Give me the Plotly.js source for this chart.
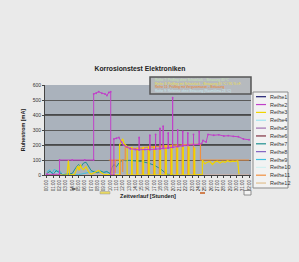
<!DOCTYPE html>
<html><head><meta charset="utf-8">
<script src="https://cdn.plot.ly/plotly-3.0.1.min.js"></script>
<style>html,body{margin:0;padding:0;background:#eaeaea;}#c{width:299px;height:262px;}</style>
</head><body><div id="c"></div>
<script>
// ---- data ----
const seriesNames = ["Reihe1","Reihe2","Reihe3","Reihe4","Reihe5","Reihe6","Reihe7","Reihe8","Reihe9","Reihe10","Reihe11","Reihe12"];
const seriesColors = ["#1c1c70","#c040c8","#f0d400","#a0e4f0","#a070b0","#803040","#209090","#8060c0","#40c0e0","#d0f0f0","#f09040","#e0c090"];
const tickLabels = ["00:00","01:00","02:00","03:00","04:00","05:00","06:00","07:00","08:00","09:00","10:00","11:00","12:00","13:00","14:00","15:00","16:00","17:00","18:00","19:00","20:00","21:00","22:00","23:00","24:00","25:00","26:00","27:00","28:00","29:00","30:00","31:00","32:00"];
const tickPos = [0,1,2,3,4,5,6,7,8,9,10,11,12,13,14,15,16,17,18,19,20,21,22,23,24,25,26,27,28,29,30,31,32];
const strongGrid = [200, 400];

const x1 = [0, 32];
const y1 = [2, 2];

const x2 = [0, 1.0, 2.0, 2.0, 4.0, 6.0,
  7.4, 7.4, 7.8, 8.2, 8.7, 9.2, 9.5, 9.8, 10.1, 10.1,
  10.6, 10.6, 11.0, 11.4, 11.8, 12.1, 12.7, 13.2, 14.0,
  14.6, 14.6, 14.6, 15.5, 16.3, 16.3, 16.3, 17.2, 17.2, 17.2,
  17.9, 17.9, 17.9, 18.4, 18.4, 18.4, 19.2, 19.2, 19.2,
  19.9, 19.9, 19.9, 20.7, 20.7, 20.7, 21.5, 21.5, 21.5,
  22.3, 22.3, 22.3, 23.2, 23.2, 23.2, 24.1, 24.1, 24.1,
  24.5, 24.7, 25.2, 25.5, 26.4, 27.2, 28.0, 28.7, 29.5, 30.3, 31.1, 32.0];
const y2 = [5, 3, 5, 100, 100, 100,
  100, 540, 545, 555, 545, 540, 530, 550, 555, 0,
  0, 240, 245, 250, 220, 200, 185, 175, 170,
  168, 250, 168, 170, 170, 265, 170, 172, 270, 172,
  175, 310, 175, 178, 325, 178, 180, 280, 180,
  185, 515, 185, 190, 300, 190, 195, 290, 195,
  200, 280, 200, 202, 270, 202, 205, 290, 205,
  210, 230, 220, 270, 265, 268, 260, 262, 258, 255, 240, 235];

const x3 = [0, 3.2, 3.4, 3.6, 4.4, 4.7, 4.9, 5.1, 5.3, 5.5, 5.8, 6.2, 6.6, 7.0, 7.8, 8.2, 8.6, 9.0,
  11.5, 11.5, 11.8, 12.0, 12.2, 12.5, 12.7, 12.7,
  13.4, 13.4, 13.5, 13.5, 14.3, 14.3, 14.4, 14.4, 15.2, 15.2, 15.3, 15.3,
  16.1, 16.1, 16.2, 16.2, 17.0, 17.0, 17.1, 17.1, 17.9, 17.9, 18.0, 18.0,
  18.8, 18.8, 18.9, 18.9, 19.7, 19.7, 19.8, 19.8, 20.6, 20.6, 20.7, 20.7,
  21.5, 21.5, 21.6, 21.6, 22.4, 22.4, 22.5, 22.5, 23.3, 23.3, 23.4, 23.4,
  24.3, 24.6, 24.6, 25.0, 25.4, 25.8, 26.2, 26.6, 27.0, 27.4, 27.8, 28.2, 28.6, 29.0, 29.4, 29.8, 30.2, 30.4];
const y3 = [0, 0, 100, 0, 5, 40, 60, 30, 70, 45, 35, 55, 20, 5, 20, 30, 15, 5,
  0, 200, 230, 240, 210, 200, 190, 0,
  0, 185, 185, 0, 0, 180, 180, 0, 0, 185, 185, 0,
  0, 190, 190, 0, 0, 190, 190, 0, 0, 195, 195, 0,
  0, 195, 195, 0, 0, 195, 195, 0, 0, 190, 190, 0,
  0, 190, 190, 0, 0, 185, 185, 0, 0, 180, 180, 0,
  0, 5, 100, 75, 85, 90, 70, 88, 92, 80, 90, 85, 95, 88, 92, 90, 95, 5];

const x4 = [0, 1.5, 3.0, 9.0, 10.5, 12.0];
const y4 = [5, 15, 3, 2, 8, 3];
const x5 = [0, 10, 20, 32];
const y5 = [1, 3, 2, 1];
const x6 = [0, 32];
const y6 = [0, 0];

const x7 = [0, 0.5, 1.0, 1.5, 2.0, 2.5, 3.0, 3.5, 4.0, 4.6, 5.0, 5.4, 5.8, 6.2, 6.6, 7.0, 7.5, 8.0, 8.5, 9.0,
  9.5, 10.0, 10.3, 10.6, 11.0, 11.4, 12.0, 12.5, 13.0, 14.0, 15.0, 16.0, 17.0, 18.0, 18.6, 19.0, 20.0];
const y7 = [10, 25, 5, 30, 15, 3, 5, 8, 10, 50, 70, 55, 80, 85, 60, 30, 20, 15, 25, 18,
  22, 10, 50, 70, 55, 80, 100, 95, 98, 95, 90, 80, 65, 40, 15, 5, 2];

const x8 = [0, 32];
const y8 = [1, 1];
const x9 = [0, 0.4, 0.8, 1.2, 1.6, 2.0, 2.4, 2.8, 5.0, 7.5, 8.0, 8.5, 9.0, 9.5, 10.0];
const y9 = [20, 35, 10, 40, 20, 30, 5, 0, 2, 25, 20, 30, 15, 25, 5];
const x10 = [0, 32];
const y10 = [0, 0];

const x11 = [9.8, 10.3, 10.3, 10.3, 10.8, 10.8, 10.8, 11.6, 11.6, 11.6, 12.0, 12.0, 12.0, 12.4, 12.4, 13.5,
  14.2, 14.2, 14.2, 15.1, 15.1, 15.1, 16.0, 16.0, 16.0, 16.9, 16.9, 16.9, 17.8, 17.8, 17.8,
  18.7, 18.7, 18.7, 19.6, 19.6, 19.6, 20.5, 20.5, 20.5, 21.4, 21.4, 21.4, 22.3, 22.3, 22.3,
  23.2, 23.2, 23.2, 24.3, 24.3, 32.0];
const y11 = [100, 100, 0, 100, 100, 10, 100, 100, 0, 100, 100, 20, 100, 100, 190, 180,
  175, 0, 178, 180, 0, 182, 185, 0, 185, 188, 0, 190, 190, 0, 192,
  195, 0, 195, 198, 0, 198, 200, 0, 200, 200, 0, 202, 203, 0, 203,
  205, 0, 205, 205, 100, 100];
const x12 = [0, 32];
const y12 = [0, 0];

const noteLines = [
  "Reihe 7: Prüfling ohne Schutzlack – Betauung 40 °C",
  "Reihe 3: Prüfling mit Schutzlack – Betauung 40 °C / 95 % r.F.",
  "Reihe 11: Prüfling mit Vergussmasse – Betauung",
  "Reihe 9: Referenz ohne Betauung (Raumklima 23 °C)"
];
const noteColors = ["#c8e8b0","#f0e040","#f08020","#c8ecf4"];

// ---- build ----
const xs = [x1,x2,x3,x4,x5,x6,x7,x8,x9,x10,x11,x12];
const ys = [y1,y2,y3,y4,y5,y6,y7,y8,y9,y10,y11,y12];
const drawOrder = [0,3,4,5,7,9,11,8,6,10,2,1];
const traces = drawOrder.map(i => ({
  type: 'scatter', mode: i === 1 ? 'lines+markers' : 'lines',
  name: seriesNames[i], x: xs[i], y: ys[i],
  line: {color: seriesColors[i], width: i === 2 || i === 10 ? 1.2 : 1},
  marker: {size: 1.8, color: seriesColors[i]},
  showlegend: false, hoverinfo: 'skip'
}));

const L = 45, R = 251, T = 85, B = 175;
const px2x = p => (p - L) / (R - L);
const py2y = p => (B - p) / (B - T);

const shapes = [];
const annotations = [];
// emphasised grid lines (drawn below the data)
strongGrid.forEach(v => shapes.push({type:'line', xref:'paper', yref:'y', x0:0, x1:1, y0:v, y1:v,
  layer:'below', line:{color:'#262626', width:1.6}}));
// legend box
shapes.push({type:'rect', xref:'paper', yref:'paper', x0:px2x(253), x1:px2x(288), y0:py2y(188), y1:py2y(92),
  fillcolor:'#f2f2f2', line:{color:'#8a8a8a', width:1}});
seriesNames.forEach((n, i) => {
  const py = 96.7 + i * 7.85;
  shapes.push({type:'line', xref:'paper', yref:'paper', x0:px2x(256), x1:px2x(266), y0:py2y(py), y1:py2y(py),
    line:{color:seriesColors[i], width:1.2}});
  annotations.push({xref:'paper', yref:'paper', x:px2x(267.5), y:py2y(py), text:n, showarrow:false,
    xanchor:'left', yanchor:'middle', font:{size:5.5, color:'#333', family:'Liberation Sans'}});
});
// note box
shapes.push({type:'rect', xref:'paper', yref:'paper', x0:px2x(150), x1:px2x(251), y0:py2y(94), y1:py2y(77),
  fillcolor:'#b6babe', line:{color:'#555', width:1.5}});
noteLines.forEach((t, i) => {
  annotations.push({xref:'paper', yref:'paper', x:px2x(152.5), y:py2y(80 + i * 3.7), text:t, showarrow:false,
    xanchor:'left', yanchor:'middle', font:{size:3.2, color:noteColors[i], family:'Liberation Sans'}});
});
// small marks under the axis
shapes.push({type:'rect', xref:'paper', yref:'paper', x0:px2x(72), x1:px2x(75.5), y0:py2y(190), y1:py2y(188),
  fillcolor:'#666', line:{width:0}});
shapes.push({type:'rect', xref:'paper', yref:'paper', x0:px2x(100), x1:px2x(110), y0:py2y(194), y1:py2y(191.5),
  fillcolor:'#e8d860', line:{color:'#999', width:0.5}});
shapes.push({type:'rect', xref:'paper', yref:'paper', x0:px2x(200), x1:px2x(205), y0:py2y(194), y1:py2y(192),
  fillcolor:'#d08050', line:{width:0}});
shapes.push({type:'rect', xref:'paper', yref:'paper', x0:px2x(244), x1:px2x(251), y0:py2y(195), y1:py2y(190.5),
  fillcolor:'#f4f4f4', line:{color:'#777', width:0.8}});

const layout = {
  width: 299, height: 262,
  margin: {l: L, r: 299 - R, t: T, b: 262 - B, pad: 0},
  paper_bgcolor: '#eaeaea', plot_bgcolor: '#aab2bc',
  font: {family: 'Liberation Sans, Arial, sans-serif', color: '#222'},
  title: {text: '<b>Korrosionstest Elektroniken</b>', font: {size: 6.8, color: '#222'},
    x: 140 / 299, xanchor: 'center', y: 1 - 69 / 262, yanchor: 'middle'},
  xaxis: {range: [-0.3, 32.3], tickmode: 'array', tickvals: tickPos, ticktext: tickLabels,
    tickangle: -90, tickfont: {size: 4.6, color: '#333'}, ticks: 'outside', ticklen: 2, tickcolor: '#444',
    showgrid: false, zeroline: false, showline: true, linecolor: '#444', linewidth: 1,
    title: {text: '<b>Zeitverlauf [Stunden]</b>', font: {size: 5.6, color: '#222'}, standoff: 3}},
  yaxis: {range: [0, 600], dtick: 100, tickfont: {size: 5, color: '#333'}, ticks: 'outside', ticklen: 2, tickcolor: '#444',
    showgrid: true, gridcolor: '#5a5a5a', gridwidth: 1, zeroline: false,
    showline: true, linecolor: '#444', linewidth: 1,
    title: {text: '<b>Ruhestrom [mA]</b>', font: {size: 5.4, color: '#222'}, standoff: 6}},
  shapes: shapes, annotations: annotations, showlegend: false
};

Plotly.newPlot('c', traces, layout, {staticPlot: true, displayModeBar: false});
</script>
</body></html>
